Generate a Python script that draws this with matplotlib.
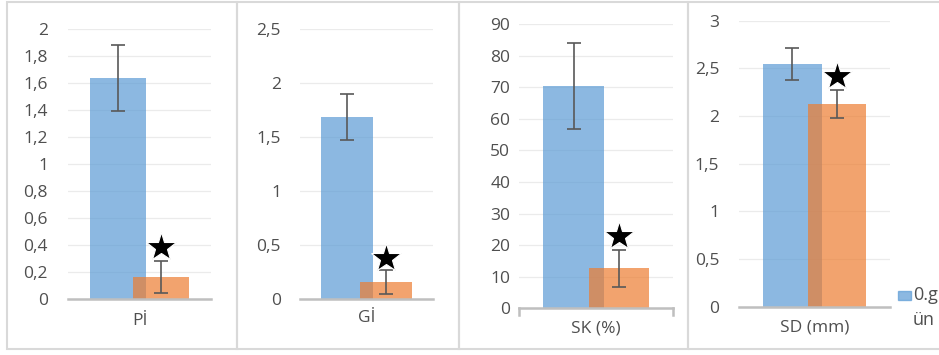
import numpy as np
import matplotlib.pyplot as plt
from matplotlib.patches import Rectangle

plt.rcParams['font.family'] = ['Open Sans', 'DejaVu Sans']

# values (mean, error) per panel
labels = ['Pİ', 'Gİ', 'SK (%)', 'SD (mm)']
day0 = [1.635, 1.685, 70.4, 2.545]
day0_err = [0.245, 0.215, 13.7, 0.168]
dayn = [0.163, 0.152, 12.7, 2.125]
dayn_err = [0.118, 0.11, 5.9, 0.145]
star_y = [0.385, 0.375, 23.0, 2.42]
ymax = [2, 2.5, 90, 3]
ystep = [0.2, 0.5, 10, 0.5]
legend_lines = ['0.g', 'ün']

blue = '#5B9BD5'
orange = '#ED7D31'
grey = '#595959'
txt = '#4F4F4F'

W, H = 939, 355
fig = plt.figure(figsize=(W / 100, H / 100), dpi=100)

# axes boxes in pixels: left, right, top, baseline
boxes = [(68, 211, 29.3, 298.7),
         (300, 432.7, 29.3, 298.7),
         (519.3, 673.3, 24, 308.3),
         (739.3, 890, 20.7, 306.7)]
tickpad = [20, 19, 9, 20]
xpad = [10, 8, 9, 9]

# panel frames
for x0, x1 in [(7, 237), (237, 459), (459, 688), (688, 960)]:
    fig.patches.append(Rectangle((x0 / W, 1 - 349 / H), (x1 - x0) / W, 347 / H,
                                 transform=fig.transFigure, fill=False,
                                 edgecolor='#D9D9D9', lw=1.5, zorder=0))

off, bw = 0.148, 0.39
for i in range(4):
    l, r, t, b = boxes[i]
    ax = fig.add_axes([l / W, 1 - b / H, (r - l) / W, (b - t) / H])
    ax.bar(-off, day0[i], bw, color=blue, alpha=0.7, zorder=2)
    ax.bar(off, dayn[i], bw, color=orange, alpha=0.7, zorder=3)
    ax.errorbar([-off, off], [day0[i], dayn[i]], yerr=[day0_err[i], dayn_err[i]],
                fmt='none', ecolor=grey, elinewidth=1.2, capsize=5, capthick=1.2, zorder=4)
    ax.plot(off, star_y[i], marker='*', ms=22, color='black', mec='white', mew=0.8, zorder=5)
    ax.set_xlim(-0.5, 0.5)
    ax.set_ylim(0, ymax[i])
    yt = np.round(np.arange(0, ymax[i] + ystep[i] / 2, ystep[i]), 2)
    ax.set_yticks(yt)
    ax.set_yticklabels([('%g' % v).replace('.', ',') for v in yt])
    ax.grid(axis='y', color='#EBEBEB', lw=0.9, zorder=0)
    ax.set_xticks([0])
    ax.set_xticklabels([labels[i]])
    for s in ['top', 'right', 'left']:
        ax.spines[s].set_visible(False)
    ax.spines['bottom'].set_color('#BFBFBF')
    ax.spines['bottom'].set_linewidth(1.8)
    ax.spines['bottom'].set_zorder(6)
    ax.tick_params(axis='y', length=0, pad=tickpad[i] * 0.72, labelsize=12.5, labelcolor=txt)
    ax.tick_params(axis='x', length=0, pad=xpad[i], labelsize=12.5, labelcolor=txt)
    if i == 2:
        # this panel shows little end marks on the category axis
        for xe in (-0.5, 0.5):
            ax.plot([xe, xe], [0, -ymax[i] * 0.022], color='#BFBFBF', lw=1.8, clip_on=False)

# legend, cut off at the right edge
fig.patches.append(Rectangle((898 / W, 1 - 300 / H), 13 / W, 9 / H,
                             transform=fig.transFigure, color=blue, alpha=0.7))
fig.text(913 / W, 1 - 295 / H, legend_lines[0], fontsize=13, color=txt, va='center')
fig.text(913 / W, 1 - 320 / H, legend_lines[1], fontsize=13, color=txt, va='center')

fig.savefig('out.png', dpi=100)
